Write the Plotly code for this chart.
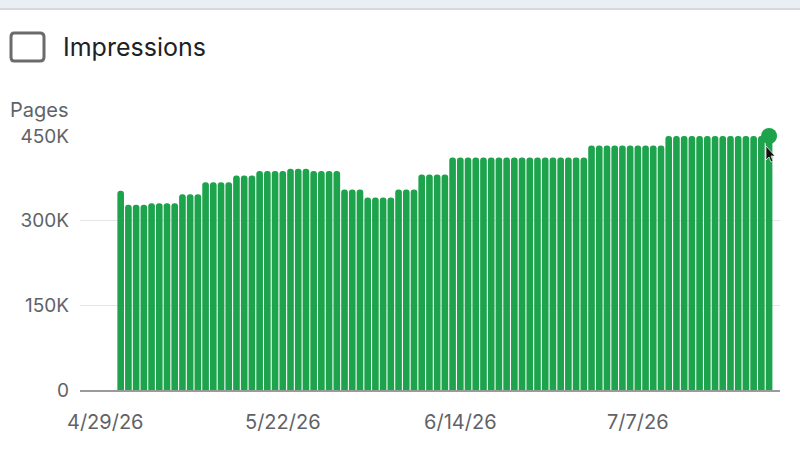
import plotly.graph_objects as go
import pandas as pd

start_date = "2026-05-01"
pages = [
    353000, 328000, 328000, 328000,
    331000, 331000, 331000, 331000,
    347000, 347000, 347000,
    368000, 368000, 368000, 368000,
    380000, 380000, 380000,
    388000, 388000, 388000, 388000,
    392000, 392000, 392000,
    388000, 388000, 388000, 388000,
    355000, 355000, 355000,
    341000, 341000, 341000, 341000,
    355000, 355000, 355000,
    382000, 382000, 382000, 382000,
    412000, 412000, 412000, 412000, 412000, 412000, 412000, 412000, 412000,
    412000, 412000, 412000, 412000, 412000, 412000, 412000, 412000, 412000,
    433000, 433000, 433000, 433000, 433000, 433000, 433000, 433000, 433000, 433000,
    450000, 450000, 450000, 450000, 450000, 450000, 450000, 450000, 450000,
    450000, 450000, 450000, 450000, 450000,
]
x_ticks = ["2026-04-29", "2026-05-22", "2026-06-14", "2026-07-07"]
y_ticks = [0, 150000, 300000, 450000]
y_labels = ["0", "150K", "300K", "450K"]

dates = pd.date_range(start_date, periods=len(pages), freq="D")
GREEN = "#1ca34c"
GREY = "#5f6368"
FONT = "Inter"
W, H = 800, 450
ML, MR, MT, MB = 80, 20, 136, 60
PW, PH = W - ML - MR, H - MT - MB


def px(v):
    return (v - ML) / PW


def py(v):
    return (H - MB - v) / PH


fig = go.Figure()
fig.add_bar(x=dates, y=pages, marker=dict(color=GREEN, line_width=0, cornerradius=3), showlegend=False)
fig.add_scatter(
    x=dates[-1:], y=pages[-1:], mode="markers",
    marker=dict(color=GREEN, size=16), cliponaxis=False, showlegend=False,
)

shapes = [
    dict(type="rect", xref="paper", yref="paper", x0=px(0), x1=px(W), y0=py(8), y1=py(0),
         fillcolor="#e9eff4", line_width=0, layer="below"),
    dict(type="line", xref="paper", yref="paper", x0=px(0), x1=px(W), y0=py(9), y1=py(9),
         line=dict(color="#c9cccf", width=1.5), layer="below"),
    dict(type="path", xref="paper", yref="paper",
         path=(f"M {px(14)} {py(33)} L {px(40)} {py(33)} Q {px(44)} {py(33)} {px(44)} {py(37)} "
               f"L {px(44)} {py(57)} Q {px(44)} {py(61)} {px(40)} {py(61)} L {px(14)} {py(61)} "
               f"Q {px(11)} {py(61)} {px(11)} {py(57)} L {px(11)} {py(37)} Q {px(11)} {py(33)} {px(14)} {py(33)} Z"),
         line=dict(color="#6b6b6b", width=3)),
    dict(type="path", xref="paper", yref="paper",
         path=(f"M {px(766)} {py(146)} L {px(766)} {py(160)} L {px(769)} {py(157)} L {px(771)} {py(162)} "
               f"L {px(773)} {py(161)} L {px(771)} {py(156)} L {px(775)} {py(156)} Z"),
         fillcolor="#111111", line=dict(color="#ffffff", width=0.7)),
]

annotations = [
    dict(text="Impressions", xref="paper", yref="paper", x=px(61), y=py(47), xanchor="left", yanchor="middle",
         showarrow=False, font=dict(family=FONT, size=25, color="#202124")),
    dict(text="Pages", xref="paper", yref="paper", x=px(8), y=py(110), xanchor="left", yanchor="middle",
         showarrow=False, font=dict(family=FONT, size=20, color=GREY)),
]

fig.update_layout(
    width=W, height=H, autosize=False,
    margin=dict(l=ML, r=MR, t=MT, b=MB, pad=0, autoexpand=False),
    paper_bgcolor="#ffffff", plot_bgcolor="#ffffff",
    bargap=0.14,
    shapes=shapes, annotations=annotations,
    xaxis=dict(
        type="date",
        range=["2026-04-25 17:30", "2026-07-25 10:00"],
        tickmode="array", tickvals=x_ticks, tickformat="%-m/%-d/%y",
        ticks="", showgrid=False, showline=True, linecolor="#9a9a9a", linewidth=1.5,
        ticklabelstandoff=13, automargin=False,
        tickfont=dict(family=FONT, size=20, color=GREY),
    ),
    yaxis=dict(
        range=[0, 450000],
        tickmode="array", tickvals=y_ticks, ticktext=y_labels,
        ticks="", showgrid=True, gridcolor="#e6e6e6", gridwidth=1, zeroline=False, showline=False,
        ticklabelstandoff=10, automargin=False,
        tickfont=dict(family=FONT, size=19, color=GREY),
    ),
)

fig.write_html(
    "out.html",
    config={"displayModeBar": False},
    post_script="document.body.style.margin='0';",
)
